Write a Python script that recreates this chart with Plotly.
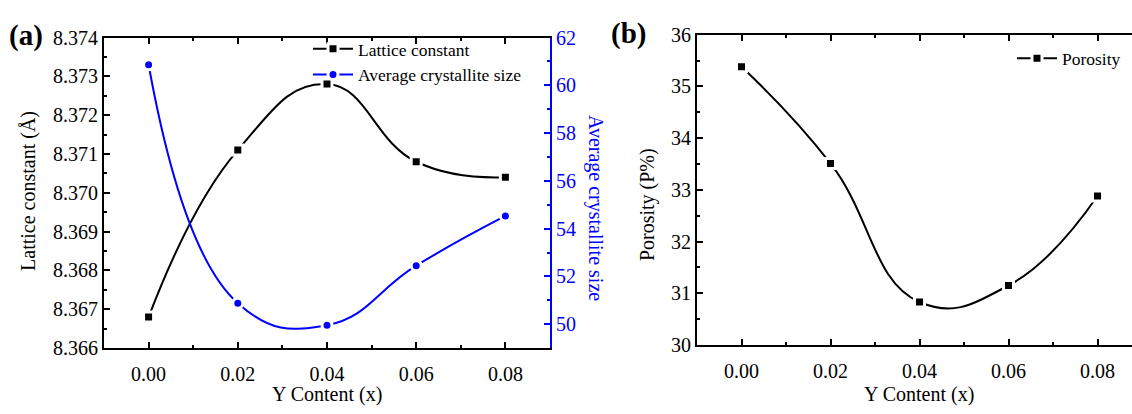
import plotly.graph_objects as go

# Y content of the samples
y_content = [0.00, 0.02, 0.04, 0.06, 0.08]
x_tick_vals = [0.00, 0.02, 0.04, 0.06, 0.08]
x_tick_text = ["0.00", "0.02", "0.04", "0.06", "0.08"]

# Panel (a): structural parameters
lattice_constant = [8.3668, 8.3711, 8.3728, 8.3708, 8.3704]
crystallite_size = [60.86, 50.88, 49.96, 52.45, 54.53]

# Panel (b): porosity
porosity = [35.38, 33.51, 30.83, 31.15, 32.88]

FONT = "Liberation Serif, Times New Roman, serif"
BLUE = "#0000ff"
W, H = 1132, 414
TICK_SIZE = 20
TITLE_SIZE = 20


def px_x(p):
    return p / W


def px_y(p):
    return 1 - p / H


fig = go.Figure()

fig.add_trace(go.Scatter(
    x=y_content, y=lattice_constant, name="Lattice constant",
    mode="lines+markers", xaxis="x", yaxis="y", legend="legend",
    line=dict(color="black", width=2, shape="spline", smoothing=1.3),
    marker=dict(symbol="square", size=10, color="black",
                line=dict(color="white", width=3)),
))
fig.add_trace(go.Scatter(
    x=y_content, y=crystallite_size, name="Average crystallite size",
    mode="lines+markers", xaxis="x", yaxis="y2", legend="legend",
    line=dict(color=BLUE, width=2, shape="spline", smoothing=1.3),
    marker=dict(symbol="circle", size=10, color=BLUE,
                line=dict(color="white", width=3)),
))
fig.add_trace(go.Scatter(
    x=y_content, y=porosity, name="Porosity",
    mode="lines+markers", xaxis="x2", yaxis="y3", legend="legend2",
    line=dict(color="black", width=2, shape="spline", smoothing=1.3),
    marker=dict(symbol="square", size=10, color="black",
                line=dict(color="white", width=3)),
))

tick_font = dict(family=FONT, size=TICK_SIZE, color="black")


def x_axis(domain, rng, anchor):
    return dict(
        domain=domain, range=rng, anchor=anchor,
        tickvals=x_tick_vals, ticktext=x_tick_text,
        ticks="inside", ticklen=6, tickwidth=1.5, tickcolor="black",
        minor=dict(ticks="inside", ticklen=3, tickwidth=1.5,
                   tickcolor="black", dtick=0.01, tick0=0),
        showline=True, linewidth=2, linecolor="black", mirror="ticks",
        showgrid=False, zeroline=False, tickfont=tick_font,
        ticklabelstandoff=7,
    )


fig.update_layout(
    width=W, height=H,
    margin=dict(l=0, r=0, t=0, b=0),
    paper_bgcolor="white", plot_bgcolor="white",
    font=dict(family=FONT, color="black"),
    xaxis=x_axis([px_x(104), px_x(550)], [-0.01, 0.09], "y"),
    xaxis2=x_axis([px_x(697), 1.0], [-0.01, 0.08775], "y3"),
    yaxis=dict(
        domain=[px_y(356), px_y(28)], range=[8.366, 8.374], anchor="x",
        dtick=0.001, tick0=8.366, tickformat=".3f",
        ticks="inside", ticklen=6, tickwidth=1.5, tickcolor="black",
        minor=dict(ticks="inside", ticklen=3, tickwidth=1.5,
                   tickcolor="black", dtick=0.0005, tick0=8.366),
        showline=True, linewidth=2, linecolor="black",
        showgrid=False, zeroline=False, tickfont=tick_font,
    ),
    yaxis2=dict(
        overlaying="y", side="right", anchor="x", range=[49, 62],
        dtick=2, tick0=50,
        ticks="inside", ticklen=6, tickwidth=1.5, tickcolor=BLUE,
        minor=dict(ticks="inside", ticklen=3, tickwidth=1.5,
                   tickcolor=BLUE, dtick=1, tick0=49),
        showline=True, linewidth=2, linecolor=BLUE,
        showgrid=False, zeroline=False,
        tickfont=dict(family=FONT, size=TICK_SIZE, color=BLUE),
    ),
    yaxis3=dict(
        domain=[px_y(352.7), px_y(25)], range=[30, 36], anchor="x2",
        dtick=1, tick0=30,
        ticks="inside", ticklen=6, tickwidth=1.5, tickcolor="black",
        minor=dict(ticks="inside", ticklen=3, tickwidth=1.5,
                   tickcolor="black", dtick=0.5, tick0=30),
        showline=True, linewidth=2, linecolor="black",
        showgrid=False, zeroline=False, tickfont=tick_font,
    ),
    legend=dict(
        x=px_x(308), y=px_y(21), xanchor="left", yanchor="top",
        bgcolor="rgba(0,0,0,0)", font=dict(family=FONT, size=17.5),
        tracegroupgap=0, itemwidth=40,
    ),
    legend2=dict(
        x=px_x(1012), y=px_y(31), xanchor="left", yanchor="top",
        bgcolor="rgba(0,0,0,0)", font=dict(family=FONT, size=17.5),
        itemwidth=40,
    ),
    showlegend=True,
)

annotations = [
    dict(text="<b>(a)</b>", x=px_x(7), y=px_y(26), xanchor="left",
         yanchor="middle", font=dict(size=29)),
    dict(text="<b>(b)</b>", x=px_x(609), y=px_y(24), xanchor="left",
         yanchor="middle", font=dict(size=29)),
    dict(text="Y Content (x)", x=px_x(327), y=px_y(391), xanchor="center",
         yanchor="top", font=dict(size=TITLE_SIZE)),
    dict(text="Y Content (x)", x=px_x(919), y=px_y(391), xanchor="center",
         yanchor="top", font=dict(size=TITLE_SIZE)),
    dict(text="Lattice constant (Å)", x=px_x(29), y=px_y(190),
         xanchor="center", yanchor="middle", textangle=-90,
         font=dict(size=TITLE_SIZE)),
    dict(text="Average crystallite size", x=px_x(595), y=px_y(208),
         xanchor="center", yanchor="middle", textangle=90,
         font=dict(size=TITLE_SIZE, color=BLUE)),
    dict(text="Porosity (P%)", x=px_x(647), y=px_y(205),
         xanchor="center", yanchor="middle", textangle=-90,
         font=dict(size=TITLE_SIZE)),
]
for a in annotations:
    a.update(xref="paper", yref="paper", showarrow=False)
    a.setdefault("font", {})
    a["font"].setdefault("family", FONT)
    a["font"].setdefault("color", "black")
fig.update_layout(annotations=annotations)

fig.write_html("out.html")
